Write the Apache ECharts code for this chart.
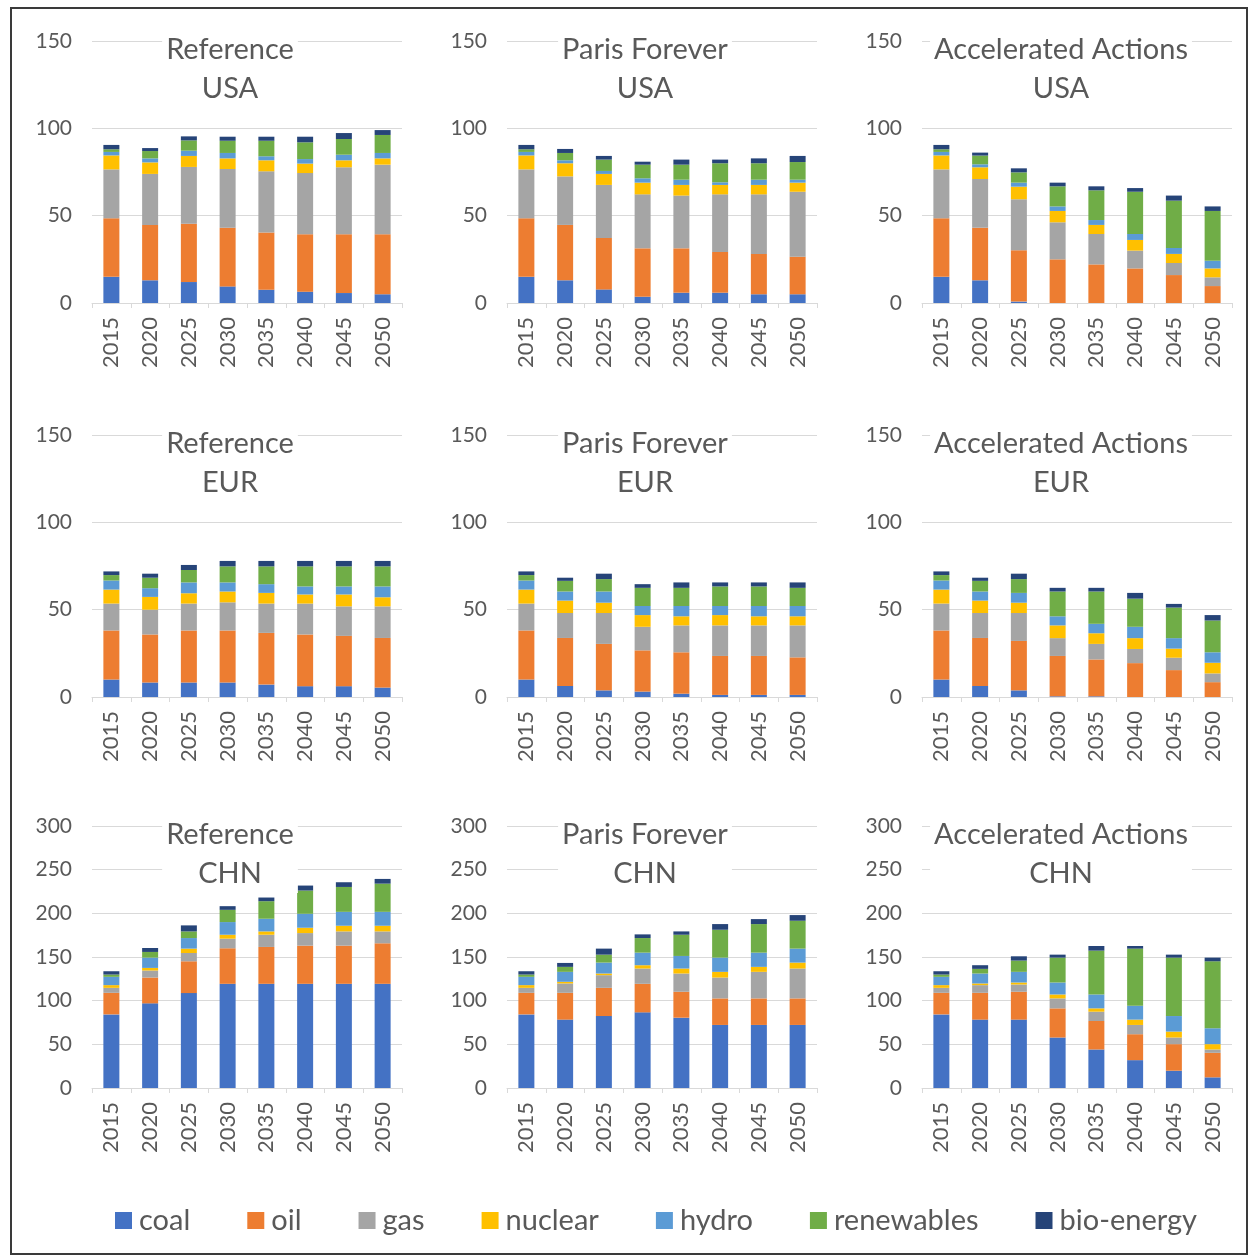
<!DOCTYPE html>
<html>
<head>
<meta charset="utf-8">
<script src="https://cdn.jsdelivr.net/npm/echarts@6/dist/echarts.min.js"></script>
<style>
  html, body { margin: 0; padding: 0; background: #fff; }
  #frame { position: absolute; left: 10px; top: 7px; width: 1234px; height: 1244px; border: 2px solid #3a3a3a; }
  #chart { position: absolute; left: 0; top: 0; width: 1254px; height: 1259px; }
</style>
</head>
<body>
<div id="frame"></div>
<div id="chart"></div>
<script>
// Primary energy by source, three scenarios x three regions
const years = ['2015', '2020', '2025', '2030', '2035', '2040', '2045', '2050'];
const sources = ['coal', 'oil', 'gas', 'nuclear', 'hydro', 'renewables', 'bio-energy'];
const scenarios = ['Reference', 'Paris Forever', 'Accelerated Actions'];
const regions = ['USA', 'EUR', 'CHN'];
const regionMax = [150, 150, 300];

// each panel: one row per source (coal, oil, gas, nuclear, hydro, renewables, bio-energy)
const usaReference = [
  [15, 13, 12, 9.5, 7.6, 6.5, 5.7, 5],
  [33.5, 31.7, 33.4, 33.6, 32.7, 32.8, 33.6, 34.3],
  [28, 29.2, 32.5, 33.6, 35.1, 35.1, 38.4, 39.9],
  [8, 6.6, 6.3, 6.1, 6.3, 5.4, 4, 3.6],
  [2, 2.3, 3, 3.1, 2.3, 2.6, 3.2, 3.1],
  [1.5, 4.2, 5.9, 7, 8.9, 9.6, 9, 10.3],
  [2.5, 1.7, 2.3, 2.3, 2.3, 3.2, 3.4, 2.8]
];
const usaParis = [
  [15, 13, 7.8, 3.6, 5.9, 5.9, 5, 5],
  [33.5, 31.7, 29.4, 27.7, 25.4, 23.3, 23.1, 21.5],
  [28, 27.8, 30.4, 30.9, 30.2, 33, 34.1, 37.2],
  [8, 7.5, 6.3, 6.7, 6.1, 5.4, 5.4, 5.2],
  [2, 1.7, 1.7, 2.5, 3, 1.5, 3, 1.7],
  [1.5, 4.2, 6.5, 7.8, 8.6, 10.9, 9.4, 10.1],
  [2.5, 2.3, 2.1, 1.7, 2.9, 2.1, 2.8, 3.5]
];
const usaAccelerated = [
  [15, 13, 0.8, 0, 0, 0, 0, 0],
  [33.5, 30.1, 29.4, 25, 22.1, 19.8, 16, 9.7],
  [28, 27.9, 29.2, 21.2, 17.4, 10.2, 6.9, 5],
  [8, 6.7, 7.2, 6.5, 5.2, 6.1, 5.2, 5.1],
  [2, 1.7, 2.3, 2.6, 2.8, 3.4, 3.4, 4.4],
  [1.5, 5, 5.9, 11.5, 17, 24.2, 27.1, 28.5],
  [2.5, 1.7, 2.3, 2.1, 2.3, 2.1, 2.9, 2.6]
];
const eurReference = [
  [10, 8.3, 8.3, 8.3, 7.1, 6.2, 6.2, 5.4],
  [28.1, 27.5, 29.8, 29.8, 29.6, 29.6, 28.8, 28.4],
  [15.4, 14.2, 15.4, 16.1, 16.8, 17.7, 16.9, 18.1],
  [8, 7.3, 5.9, 6.2, 6.1, 5.2, 6.8, 5.2],
  [5.2, 5, 6.2, 5.2, 5, 4.6, 4.6, 6.2],
  [3.1, 6, 7.1, 9.2, 10.2, 11.5, 11.5, 11.5],
  [2.1, 2.3, 2.9, 3.1, 3.1, 3.1, 3.1, 3.1]
];
const eurParis = [
  [10, 6.3, 3.8, 3.1, 1.9, 1.2, 1.2, 1.2],
  [28.1, 27.5, 26.6, 23.6, 23.7, 22.3, 22.3, 21.5],
  [15.4, 14.3, 17.7, 13.5, 15.4, 17.5, 17.5, 18.3],
  [8, 7.1, 5.9, 6.7, 5.2, 5.9, 5.2, 5.2],
  [5.2, 5.2, 6.4, 5.2, 5.9, 5.2, 5.9, 5.9],
  [3.1, 6.1, 7.1, 10.4, 10.4, 11.2, 11.2, 10.4],
  [2.1, 1.8, 3.1, 2.1, 3.1, 2.3, 2.3, 3.1]
];
const eurAccelerated = [
  [10, 6.3, 3.8, 0.4, 0.4, 0, 0, 0],
  [28.1, 27.5, 28.3, 23.1, 21.1, 19.4, 15.4, 8.5],
  [15.4, 14.3, 16, 10.2, 8.9, 8.1, 7.1, 5],
  [8, 7.1, 5.9, 7.3, 6.1, 6.2, 5.2, 6.1],
  [5.2, 5.2, 5.6, 5.2, 5.4, 6.5, 6, 6],
  [3.1, 6.1, 7.9, 14.2, 18.5, 16.1, 17.5, 18.2],
  [2.1, 1.8, 3.1, 2.1, 2.1, 3.3, 2.1, 3.1]
];
const chnReference = [
  [84.3, 96.9, 108.7, 119.3, 119.3, 119.3, 119.3, 119.3],
  [24.7, 29.6, 36.4, 40.7, 42.2, 43.7, 43.7, 46.4],
  [5.7, 8, 9.5, 11, 14, 14.4, 16.3, 13.6],
  [3.1, 3, 5, 4.5, 3.8, 6.1, 6.5, 6.5],
  [9.5, 11.8, 12.1, 14.5, 14.5, 16, 15.9, 15.9],
  [2.6, 6.5, 7.6, 14, 20.1, 26.6, 28.5, 32.3],
  [3.8, 4.5, 6.9, 4.2, 4.2, 5.7, 5.4, 5.4]
];
const chnParis = [
  [84.3, 78.3, 82.4, 86.6, 80.5, 72.2, 72.2, 72.2],
  [24.7, 30.7, 32.3, 32.7, 29.7, 30.4, 30.4, 30.4],
  [5.7, 10.7, 14.5, 17.5, 20.9, 23.9, 30.4, 34.2],
  [3.1, 1.9, 1.9, 3.8, 5.7, 6.5, 5.7, 6.8],
  [9.5, 11.4, 12.5, 14.4, 14.4, 16.3, 16.3, 16],
  [2.6, 5.7, 9.1, 16.7, 24.3, 31.9, 32.7, 31.9],
  [3.8, 4.5, 6.9, 4.2, 3.8, 6.5, 5.7, 6.5]
];
const chnAccelerated = [
  [84.3, 78.3, 78.3, 57.8, 44.1, 31.9, 19.8, 12.2],
  [24.7, 30.7, 31.9, 33.4, 32.6, 29.7, 30.4, 28.1],
  [5.7, 8.8, 8.3, 11.4, 10.7, 10.6, 7.6, 3.8],
  [3.1, 1.9, 2.3, 4.5, 3.8, 6.1, 6.8, 6.1],
  [9.5, 11.4, 12.2, 13.7, 15.9, 15.9, 17.8, 18.2],
  [2.6, 5.3, 12.9, 28.5, 50.2, 65.4, 66.9, 76.7],
  [3.8, 4.2, 4.9, 3.4, 5.3, 3, 3.4, 4.2]
];

// panels[row][col]
const panels = [
  [usaReference, usaParis, usaAccelerated],
  [eurReference, eurParis, eurAccelerated],
  [chnReference, chnParis, chnAccelerated]
];

const colors = ['#4472C4', '#ED7D31', '#A5A5A5', '#FFC000', '#5B9BD5', '#70AD47', '#264478'];
const FONT = 'Lato, "Open Sans", sans-serif';
const TEXT = '#595959';
const GRID_LINE = '#D9D9D9';

const colLeft = [92, 507, 922];
const colTitleX = [230, 645, 1061];
const rowTop = [41, 435, 826];
const plotW = 310;
const plotH = 262;

const grids = [], xAxes = [], yAxes = [], series = [], graphics = [];
let idx = 0;
for (let r = 0; r < 3; r++) {
  for (let c = 0; c < 3; c++) {
    grids.push({ left: colLeft[c], top: rowTop[r], width: plotW, height: plotH });
    xAxes.push({
      type: 'category', gridIndex: idx, data: years,
      axisLine: { lineStyle: { color: GRID_LINE, width: 1 } },
      axisTick: { show: true, length: 5, lineStyle: { color: GRID_LINE } },
      axisLabel: { rotate: 90, color: TEXT, fontFamily: FONT, fontSize: 22, margin: 14 }
    });
    yAxes.push({
      type: 'value', gridIndex: idx, min: 0, max: regionMax[r], interval: 50,
      axisLine: { show: false }, axisTick: { show: false },
      splitLine: { lineStyle: { color: GRID_LINE, width: 1 } },
      axisLabel: { color: TEXT, fontFamily: FONT, fontSize: 21, margin: 20 }
    });
    const panel = panels[r][c];
    sources.forEach((s, k) => {
      series.push({
        name: s, type: 'bar', stack: 'p' + idx,
        xAxisIndex: idx, yAxisIndex: idx,
        barWidth: 16,
        itemStyle: { color: colors[k] },
        emphasis: { disabled: true },
        data: panel[k]
      });
    });
    graphics.push({
      type: 'text', z: 100,
      x: colTitleX[c], y: rowTop[r] - 11,
      style: {
        text: scenarios[c] + '\n' + regions[r],
        align: 'center', verticalAlign: 'top',
        fill: TEXT, font: '29px ' + FONT, lineHeight: 39,
        backgroundColor: '#fff', padding: [0, 4]
      }
    });
    idx++;
  }
}

const chart = echarts.init(document.getElementById('chart'), null, { renderer: 'canvas' });
chart.setOption({
  animation: false,
  color: colors,
  textStyle: { fontFamily: FONT },
  grid: grids,
  xAxis: xAxes,
  yAxis: yAxes,
  series: series,
  graphic: graphics,
  legend: {
    data: sources, left: 110, top: 1201,
    icon: 'rect', itemWidth: 17, itemHeight: 17, itemGap: 57,
    textStyle: { color: TEXT, fontFamily: FONT, fontSize: 29, padding: [0, 0, 0, 2] }
  }
});
</script>
</body>
</html>
